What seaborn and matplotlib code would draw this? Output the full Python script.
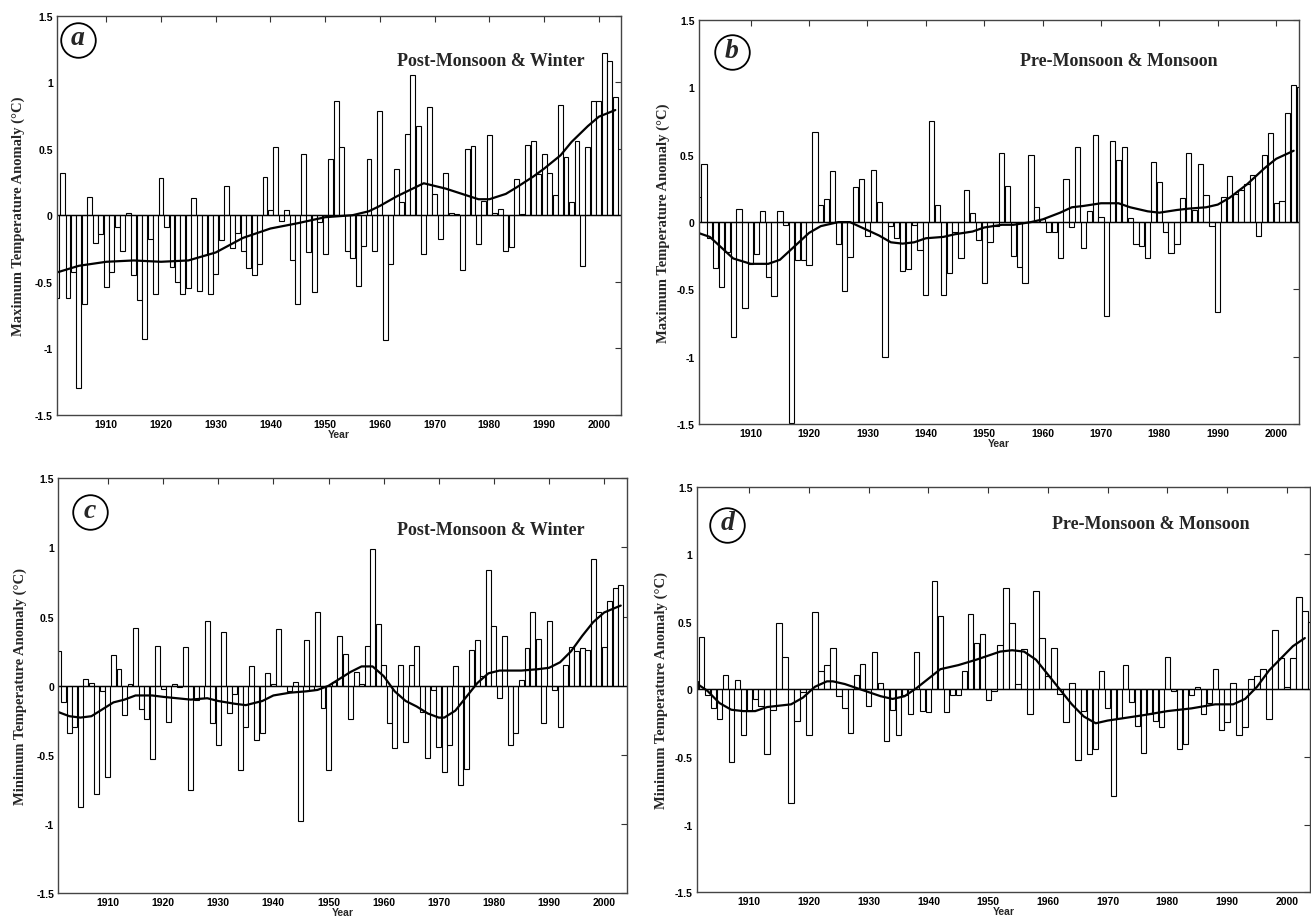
import matplotlib
matplotlib.use("Agg")
import matplotlib.pyplot as plt
import seaborn as sns

# years covered by the bars (panels b and d show a clipped extra bar at the right edge)
years = list(range(1901, 2004))
years_ext = list(range(1901, 2005))

# (a) maximum temperature, post-monsoon & winter
tmax_post = [-0.62, 0.32, -0.62, -0.43, -1.30, -0.67, 0.14, -0.21, -0.14, -0.54,
             -0.43, -0.09, -0.27, 0.02, -0.45, -0.64, -0.93, -0.18, -0.59, 0.28,
             -0.09, -0.39, -0.50, -0.59, -0.55, 0.13, -0.57, -0.30, -0.59, -0.44,
             -0.19, 0.22, -0.25, -0.13, -0.27, -0.40, -0.45, -0.37, 0.29, 0.04,
             0.51, -0.04, 0.04, -0.34, -0.67, 0.46, -0.28, -0.58, -0.05, -0.29,
             0.42, 0.86, 0.51, -0.27, -0.32, -0.53, -0.23, 0.42, -0.27, 0.78,
             -0.94, -0.37, 0.35, 0.10, 0.61, 1.05, 0.67, -0.29, 0.81, 0.16,
             -0.18, 0.32, 0.02, 0.01, -0.41, 0.50, 0.52, -0.22, 0.11, 0.60,
             0.02, 0.05, -0.27, -0.24, 0.27, 0.01, 0.53, 0.56, 0.31, 0.46,
             0.32, 0.15, 0.83, 0.44, 0.10, 0.56, -0.38, 0.51, 0.86, 0.86,
             1.22, 1.16, 0.89]

# (b) maximum temperature, pre-monsoon & monsoon
tmax_pre = [0.19, 0.43, -0.12, -0.34, -0.48, -0.22, -0.85, 0.10, -0.64, -0.31,
            -0.24, 0.08, -0.41, -0.55, 0.08, -0.02, -1.49, -0.28, -0.28, -0.32,
            0.67, 0.13, 0.17, 0.38, -0.16, -0.51, -0.26, 0.26, 0.32, -0.10,
            0.39, 0.15, -1.00, -0.03, -0.12, -0.36, -0.35, -0.02, -0.21, -0.54,
            0.75, 0.13, -0.54, -0.38, -0.07, -0.27, 0.24, 0.07, -0.13, -0.45,
            -0.15, -0.03, 0.51, 0.27, -0.25, -0.33, -0.45, 0.50, 0.11, 0.02,
            -0.07, -0.07, -0.27, 0.32, -0.04, 0.56, -0.19, 0.08, 0.65, 0.04,
            -0.70, 0.60, 0.46, 0.56, 0.03, -0.16, -0.18, -0.27, 0.45, 0.30,
            -0.07, -0.23, -0.16, 0.18, 0.51, 0.09, 0.43, 0.20, -0.03, -0.67,
            0.19, 0.34, 0.21, 0.24, 0.28, 0.35, -0.10, 0.50, 0.66, 0.14,
            0.16, 0.81, 1.02, 1.00]

# (c) minimum temperature, post-monsoon & winter
tmin_post = [0.25, -0.12, -0.34, -0.30, -0.88, 0.05, 0.02, -0.78, -0.04, -0.66,
             0.22, 0.12, -0.21, 0.01, 0.42, -0.17, -0.24, -0.53, 0.29, -0.02,
             -0.26, 0.01, -0.01, 0.28, -0.75, -0.10, -0.09, 0.47, -0.27, -0.43,
             0.39, -0.20, -0.06, -0.61, -0.30, 0.14, -0.39, -0.34, 0.09, 0.01,
             0.41, 0.00, -0.04, 0.03, -0.98, 0.33, -0.03, 0.53, -0.16, -0.61,
             0.03, 0.36, 0.23, -0.24, 0.10, 0.01, 0.29, 0.99, 0.45, 0.15,
             -0.27, -0.45, 0.15, -0.41, 0.15, 0.29, -0.19, -0.52, -0.03, -0.44,
             -0.62, -0.43, 0.14, -0.72, -0.60, 0.26, 0.33, 0.07, 0.84, 0.43,
             -0.09, 0.36, -0.43, -0.34, 0.04, 0.27, 0.53, 0.34, -0.27, 0.47,
             -0.03, -0.30, 0.15, 0.28, 0.25, 0.27, 0.26, 0.92, 0.53, 0.28,
             0.61, 0.71, 0.73]

# (d) minimum temperature, pre-monsoon & monsoon
tmin_pre = [0.06, 0.39, -0.04, -0.14, -0.22, 0.11, -0.54, 0.07, -0.34, -0.16,
            -0.07, -0.12, -0.48, -0.15, 0.49, 0.24, -0.84, -0.23, -0.02, -0.34,
            0.57, 0.14, 0.18, 0.31, -0.05, -0.14, -0.32, 0.11, 0.19, -0.12,
            0.28, 0.05, -0.38, -0.15, -0.34, -0.04, -0.18, 0.28, -0.16, -0.17,
            0.80, 0.54, -0.17, -0.04, -0.04, 0.14, 0.56, 0.34, 0.41, -0.08,
            -0.01, 0.33, 0.75, 0.49, 0.04, 0.30, -0.18, 0.73, 0.38, 0.10,
            0.31, -0.03, -0.24, 0.05, -0.52, -0.16, -0.48, -0.44, 0.14, -0.14,
            -0.79, -0.21, 0.18, -0.09, -0.27, -0.47, -0.18, -0.23, -0.28, 0.24,
            -0.01, -0.44, -0.40, -0.04, 0.02, -0.18, -0.10, 0.15, -0.30, -0.24,
            0.05, -0.34, -0.28, 0.08, 0.10, 0.15, -0.22, 0.44, 0.23, 0.02,
            0.23, 0.68, 0.58, 0.50]

# smoothed curves
a_curve_yrs = [1901, 1905, 1910, 1915, 1920, 1925, 1930, 1935, 1940, 1945, 1950,
               1955, 1958, 1960, 1963, 1965, 1968, 1970, 1972, 1975, 1978, 1980,
               1983, 1985, 1988, 1990, 1993, 1995, 1998, 2000, 2003]
a_curve = [-0.43, -0.38, -0.35, -0.34, -0.35, -0.34, -0.28, -0.17, -0.10, -0.06,
           -0.015, 0.0, 0.03, 0.07, 0.14, 0.18, 0.24, 0.22, 0.20, 0.16, 0.12,
           0.12, 0.16, 0.21, 0.29, 0.35, 0.45, 0.55, 0.67, 0.74, 0.79]

b_curve_yrs = [1901, 1903, 1905, 1907, 1910, 1913, 1915, 1917, 1920, 1922, 1925,
               1927, 1929, 1932, 1934, 1936, 1938, 1940, 1943, 1945, 1948, 1950,
               1953, 1955, 1958, 1960, 1963, 1965, 1967, 1970, 1973, 1975, 1978,
               1980, 1983, 1985, 1988, 1990, 1992, 1995, 1998, 2000, 2003]
b_curve = [-0.08, -0.11, -0.19, -0.27, -0.31, -0.31, -0.28, -0.20, -0.08, -0.03,
           0.0, 0.0, -0.04, -0.10, -0.15, -0.16, -0.15, -0.12, -0.11, -0.09,
           -0.07, -0.04, -0.02, -0.02, 0.0, 0.02, 0.07, 0.11, 0.12, 0.14, 0.14,
           0.11, 0.08, 0.07, 0.09, 0.10, 0.11, 0.13, 0.18, 0.28, 0.40, 0.47, 0.53]

c_curve_yrs = [1901, 1903, 1905, 1907, 1909, 1911, 1913, 1915, 1918, 1920, 1925,
               1928, 1930, 1933, 1935, 1938, 1940, 1943, 1946, 1948, 1950, 1952,
               1954, 1956, 1958, 1960, 1962, 1964, 1966, 1968, 1970, 1971, 1973,
               1975, 1977, 1979, 1981, 1985, 1988, 1990, 1992, 1994, 1996, 1998,
               2000, 2003]
c_curve = [-0.19, -0.22, -0.23, -0.22, -0.17, -0.12, -0.10, -0.07, -0.07, -0.08,
           -0.10, -0.09, -0.11, -0.13, -0.14, -0.11, -0.07, -0.05, -0.04, -0.03,
           0.0, 0.05, 0.10, 0.14, 0.14, 0.07, -0.04, -0.11, -0.15, -0.20, -0.23,
           -0.23, -0.18, -0.08, 0.02, 0.09, 0.11, 0.11, 0.12, 0.13, 0.17, 0.25,
           0.36, 0.46, 0.53, 0.58]

d_curve_yrs = [1901, 1903, 1905, 1907, 1909, 1911, 1913, 1915, 1917, 1919, 1921,
               1923, 1924, 1926, 1928, 1930, 1932, 1934, 1936, 1938, 1940, 1942,
               1945, 1948, 1950, 1952, 1954, 1956, 1958, 1960, 1962, 1964, 1966,
               1968, 1970, 1973, 1976, 1980, 1984, 1988, 1991, 1993, 1995, 1997,
               1999, 2001, 2003]
d_curve = [0.05, -0.01, -0.10, -0.15, -0.16, -0.16, -0.13, -0.12, -0.11, -0.06,
           0.02, 0.06, 0.06, 0.04, 0.01, -0.02, -0.05, -0.07, -0.05, 0.01, 0.08,
           0.15, 0.18, 0.22, 0.25, 0.28, 0.29, 0.28, 0.22, 0.11, 0.0, -0.11,
           -0.20, -0.25, -0.23, -0.21, -0.19, -0.16, -0.14, -0.11, -0.11, -0.07,
           0.02, 0.14, 0.23, 0.32, 0.38]

x_ticks = [1910, 1920, 1930, 1940, 1950, 1960, 1970, 1980, 1990, 2000]
y_ticks = [-1.5, -1, -0.5, 0, 0.5, 1, 1.5]
y_tick_labels = ['-1.5', '-1', '-0.5', '0', '0.5', '1', '1.5']

title_post = 'Post-Monsoon & Winter'
title_pre = 'Pre-Monsoon & Monsoon'
ylab_max = 'Maximum Temperature Anomaly (°C)'
ylab_min = 'Minimum Temperature Anomaly (°C)'

sns.set_style("white")
plt.rcParams['font.family'] = ['Liberation Sans', 'DejaVu Sans']
serif = ['Liberation Serif', 'DejaVu Serif']

fig = plt.figure(figsize=(13.11, 9.2), dpi=100)

panels = [
    dict(rect=[0.0435, 0.548, 0.430, 0.434], yrs=years, vals=tmax_post,
         cx=a_curve_yrs, cy=a_curve, letter='a', title=title_post, ylabel=ylab_max,
         xlim=(1901.0, 2004.0), title_xy=(0.77, 0.887), letter_xy=(0.037, 0.94),
         lab_x=-0.056),
    dict(rect=[0.533, 0.538, 0.458, 0.439], yrs=years_ext, vals=tmax_pre,
         cx=b_curve_yrs, cy=b_curve, letter='b', title=title_pre, ylabel=ylab_max,
         xlim=(1901.1, 2003.95), title_xy=(0.70, 0.90), letter_xy=(0.055, 0.92),
         lab_x=-0.048),
    dict(rect=[0.0445, 0.028, 0.4336, 0.451], yrs=years, vals=tmin_post,
         cx=c_curve_yrs, cy=c_curve, letter='c', title=title_post, ylabel=ylab_min,
         xlim=(1901.0, 2004.1), title_xy=(0.76, 0.877), letter_xy=(0.056, 0.918),
         lab_x=-0.055),
    dict(rect=[0.5314, 0.029, 0.468, 0.441], yrs=years_ext, vals=tmin_pre,
         cx=d_curve_yrs, cy=d_curve, letter='d', title=title_pre, ylabel=ylab_min,
         xlim=(1901.2, 2003.9), title_xy=(0.74, 0.909), letter_xy=(0.05, 0.906),
         lab_x=-0.047),
]

for p in panels:
    ax = fig.add_axes(p['rect'])
    sns.barplot(x=p['yrs'], y=p['vals'], native_scale=True, width=0.9,
                color='white', edgecolor='black', linewidth=0.8,
                errorbar=None, ax=ax)
    ax.axhline(0, color='black', lw=1.0)
    sns.lineplot(x=p['cx'], y=p['cy'], color='black', lw=1.6, ax=ax)

    ax.set_xlim(*p['xlim'])
    ax.set_ylim(-1.5, 1.5)
    ax.set_xticks(x_ticks)
    ax.set_xticklabels([str(t) for t in x_ticks])
    ax.set_yticks(y_ticks)
    ax.set_yticklabels(y_tick_labels)
    ax.tick_params(direction='in', top=True, right=True, length=4, width=0.8,
                   labelsize=7.5, pad=3, colors='#333', labelcolor='black')
    for lab in ax.get_xticklabels() + ax.get_yticklabels():
        lab.set_fontweight('bold')
    for s in ax.spines.values():
        s.set_color('#444')
        s.set_linewidth(1.0)

    ax.set_xlabel('Year', fontsize=7.5, fontweight='bold', labelpad=0)
    ax.set_ylabel(p['ylabel'], fontsize=10.5, fontweight='bold', family=serif)
    ax.yaxis.set_label_coords(p['lab_x'], 0.5)

    ax.text(p['title_xy'][0], p['title_xy'][1], p['title'], transform=ax.transAxes,
            ha='center', va='center', fontsize=13, fontweight='bold', family=serif)
    lx, ly = p['letter_xy']
    ax.scatter([lx], [ly], s=620, facecolors='white', edgecolors='black',
               linewidths=1.3, transform=ax.transAxes, zorder=5, clip_on=False)
    ax.text(lx, ly + 0.005, p['letter'], transform=ax.transAxes, ha='center',
            va='center', fontsize=20, fontweight='bold', fontstyle='italic',
            family=serif, zorder=6)

fig.savefig('out.png', dpi=100)
